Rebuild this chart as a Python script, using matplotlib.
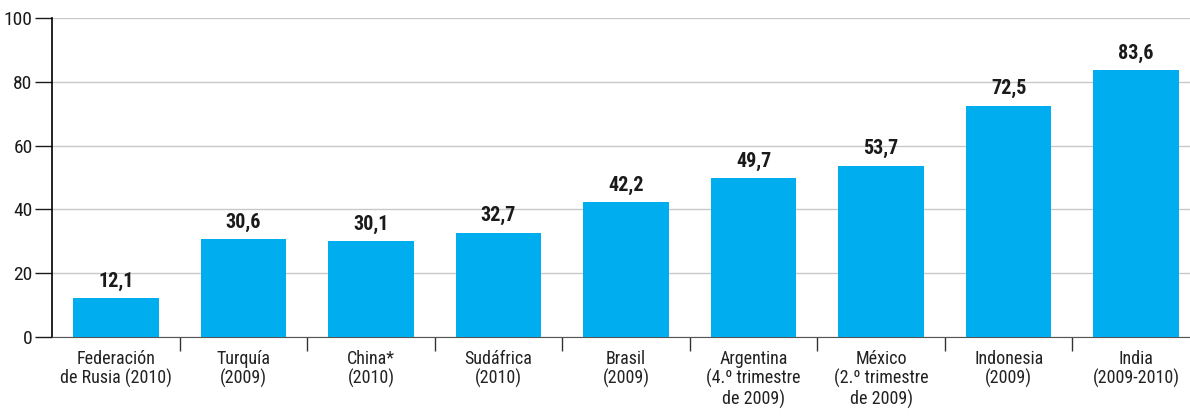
import matplotlib
matplotlib.use("Agg")
import matplotlib.pyplot as plt
from matplotlib import font_manager
import numpy as np

names = set(f.name for f in font_manager.fontManager.ttflist)
families = [n for n in ["Roboto Condensed", "Liberation Sans Narrow", "DejaVu Sans Condensed"] if n in names]
plt.rcParams["font.family"] = families + ["DejaVu Sans"]

categories = [
    "Federación\nde Rusia (2010)",
    "Turquía\n(2009)",
    "China*\n(2010)",
    "Sudáfrica\n(2010)",
    "Brasil\n(2009)",
    "Argentina\n(4.º trimestre\nde 2009)",
    "México\n(2.º trimestre\nde 2009)",
    "Indonesia\n(2009)",
    "India\n(2009-2010)",
]
values = [12.1, 30.6, 30.1, 32.7, 42.2, 49.7, 53.7, 72.5, 83.6]
yticks = [0, 20, 40, 60, 80, 100]

fig = plt.figure(figsize=(11.9, 4.16), dpi=100)
ax = fig.add_axes([52 / 1190, 1 - 337 / 416, 1148 / 1190, 319 / 416])

x = np.arange(len(categories))
ax.bar(x, values, width=0.67, color="#00aeef", zorder=3)
for xi, v in zip(x, values):
    ax.text(xi, v + 2.3, f"{v:.1f}".replace(".", ","), ha="center", va="bottom",
            fontsize=14.5, fontweight="bold", color="#1a1a1a")

ax.set_xlim(-0.5, len(categories) - 0.5)
ax.set_ylim(0, 100)
ax.set_yticks(yticks)
ax.tick_params(axis="y", length=12, width=1, labelsize=14, pad=2, colors="#1a1a1a")
ax.yaxis.grid(True, color="#c8c8c8", linewidth=1, zorder=0)

ax.set_xticks(x)
ax.set_xticklabels(categories, fontsize=13, linespacing=1.1, color="#222222")
ax.tick_params(axis="x", which="major", length=0, pad=9)
ax.set_xticks(x[:-1] + 0.5, minor=True)
ax.tick_params(axis="x", which="minor", length=10, width=1, color="#333333")

for s in ["top", "right"]:
    ax.spines[s].set_visible(False)
ax.spines["left"].set_linewidth(1.2)
ax.spines["bottom"].set_color("#555555")

fig.savefig("out.png", dpi=100)
